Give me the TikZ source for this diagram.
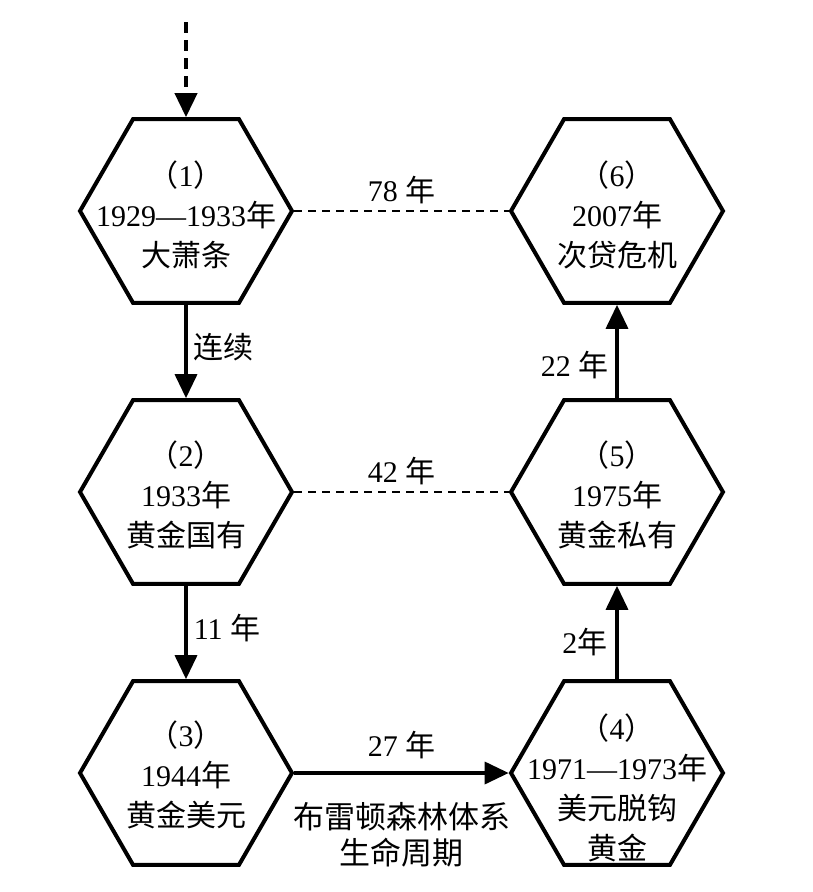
\documentclass[tikz,border=0pt]{standalone}
\usepackage{fontspec}
\setmainfont{Liberation Serif}
\newfontfamily\cjk{Noto Sans CJK SC}
\usetikzlibrary{shapes.geometric,arrows.meta}
\newcommand{\zh}[1]{{\cjk #1}}
\tikzset{
  hexbox/.style={regular polygon,regular polygon sides=6,draw,line width=4pt,minimum size=212pt,inner sep=0pt},
  hextext/.style={align=center,inner sep=0pt,font=\fontsize{30}{40}\selectfont},
  lbl/.style={inner sep=0pt,align=center,font=\fontsize{30}{36}\selectfont},
  flow/.style={line width=3.5pt,-{Triangle[width=22pt,length=24pt]}},
  gap/.style={line width=2pt,dash pattern=on 8pt off 6pt}
}
\begin{document}
\begin{tikzpicture}[x=1pt,y=-1pt]
\useasboundingbox (0,0) rectangle (813,892);
%
\node[hexbox] (h1) at (186,211) {};
\node[hexbox] (h2) at (186,492) {};
\node[hexbox] (h3) at (186,773) {};
\node[hexbox] (h4) at (617,773) {};
\node[hexbox] (h5) at (617,492) {};
\node[hexbox] (h6) at (617,211) {};
%
\node[hextext] (t1) at (186,215) {\zh{（}1\zh{）}\\1929—1933\zh{年}\\\zh{大萧条}};
\node[hextext] (t2) at (186,495) {\zh{（}2\zh{）}\\1933\zh{年}\\\zh{黄金国有}};
\node[hextext] (t3) at (186,775) {\zh{（}3\zh{）}\\1944\zh{年}\\\zh{黄金美元}};
\node[hextext] (t4) at (617,788) {\zh{（}4\zh{）}\\1971—1973\zh{年}\\\zh{美元脱钩}\\\zh{黄金}};
\node[hextext] (t5) at (617,495) {\zh{（}5\zh{）}\\1975\zh{年}\\\zh{黄金私有}};
\node[hextext] (t6) at (617,215) {\zh{（}6\zh{）}\\2007\zh{年}\\\zh{次贷危机}};
%
\coordinate (start) at (186,22);
\draw[flow,line width=4pt,dash pattern=on 11pt off 7pt] (start) -- (h1);
\draw[flow] (h1) -- node[lbl,right=6pt,pos=0.45] (l12) {\zh{连续}} (h2);
\draw[flow] (h2) -- node[lbl,right=6pt,pos=0.45] (l23) {11 \zh{年}} (h3);
\draw[flow] (h3) -- node[lbl,above=12pt] (l34) {27 \zh{年}}
  node[lbl,below=28pt,font=\fontsize{31}{36}\selectfont] (b34) {\zh{布雷顿森林体系}\\\zh{生命周期}} (h4);
\draw[flow] (h4) -- node[lbl,left=8pt,pos=0.4] (l45) {2\zh{年}} (h5);
\draw[flow] (h5) -- node[lbl,left=7pt,pos=0.35] (l56) {22 \zh{年}} (h6);
%
\draw[gap] (h1) -- node[lbl,above=6pt] (l16) {78 \zh{年}} (h6);
\draw[gap] (h2) -- node[lbl,above=6pt] (l25) {42 \zh{年}} (h5);
\end{tikzpicture}
\end{document}
